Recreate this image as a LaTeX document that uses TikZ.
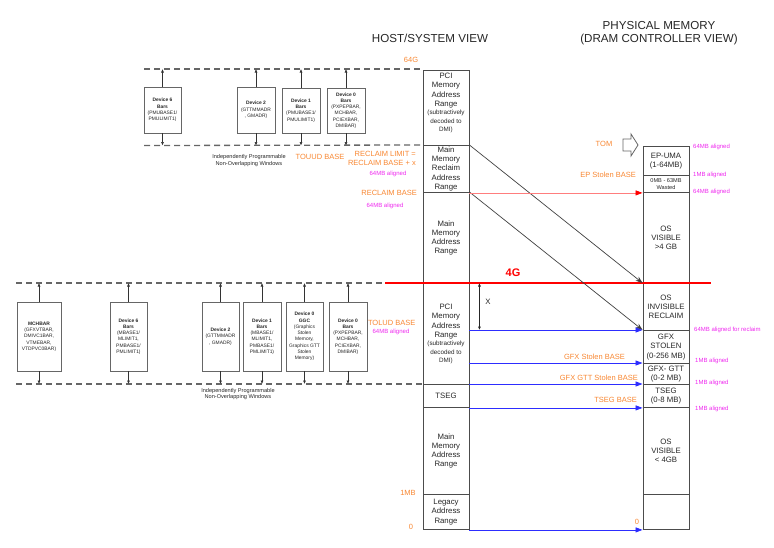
\documentclass[tikz,border=0pt]{standalone}
\usepackage{fontspec}
\setmainfont{Liberation Sans}
\usetikzlibrary{arrows.meta}

\definecolor{lblorange}{RGB}{248,135,50}
\definecolor{lblmag}{RGB}{238,40,238}
\definecolor{lineblue}{RGB}{45,45,255}
\definecolor{reclaimred}{RGB}{255,125,125}

\newcommand\fsMain{\fontsize{7.8}{9.3}\selectfont}
\newcommand\fsSub{\fontsize{6.3}{8.2}\selectfont}
\newcommand\fsTiny{\fontsize{5.6}{7.4}\selectfont}
\newcommand\fsDev{\fontsize{4.9}{6.3}\selectfont}
\newcommand\fsLbl{\fontsize{7.5}{8.8}\selectfont}
\newcommand\fsAlign{\fontsize{6.0}{7.2}\selectfont}
\newcommand\fsCap{\fontsize{5.6}{6.8}\selectfont}
\newcommand\fsHead{\fontsize{11.6}{13.2}\selectfont}

\tikzset{
  memcol/.style={draw=black!70, line width=0.9pt, minimum width=46pt, inner sep=0pt,
                 align=center, font=\fsMain, text=black!85, anchor=north},
  devbox/.style={draw=black!60, line width=0.7pt, fill=white, inner sep=0pt,
                 align=center, font=\fsDev, text=black!85},
  window/.style={black!60, line width=1.3pt, dash pattern=on 6pt off 4pt},
  devlink/.style={-{Latex[length=3.5pt,width=3pt]}, black!80, line width=0.6pt},
  remap/.style={-{Stealth[length=7pt,width=5pt]}, black!75, line width=0.7pt},
  basearrow/.style={-{Triangle[length=7pt,width=5pt]}, lineblue, line width=0.8pt},
  addr/.style={text=lblorange, font=\fsLbl, inner sep=0pt},
  note/.style={text=lblmag, font=\fsAlign, inner sep=0pt},
  caption/.style={text=black!85, font=\fsCap, align=center, inner sep=0pt},
  heading/.style={text=black!85, font=\fsHead, align=center, inner sep=0pt},
}

\begin{document}
\begin{tikzpicture}[x=1pt, y=-1pt]
\useasboundingbox (0,0) rectangle (774,547);

% ---------- headings ----------
\node[heading] (hhost) at (430,38) {HOST/SYSTEM VIEW};
\node[heading] (hphys) at (659,33) {PHYSICAL MEMORY\\(DRAM CONTROLLER VIEW)};

% ---------- host / system address map ----------
\node[memcol, minimum height=75pt] (hpci) at (446,70)
  {PCI\\Memory\\Address\\Range\\[-1pt]\fsSub(subtractively\\[-1pt]\fsSub decoded to\\[-1pt]\fsSub DMI)\\[2pt]\mbox{}};
\node[memcol, minimum height=47pt] (hrec) at (446,145)
  {Main\\Memory\\Reclaim\\Address\\Range};
\node[memcol, minimum height=91pt] (hmain) at (446,192)
  {Main\\Memory\\Address\\Range};
\node[memcol, minimum height=101pt] (hpci2) at (446,283)
  {PCI\\Memory\\Address\\Range\\[-1pt]\fsSub(subtractively\\[-1pt]\fsSub decoded to\\[-1pt]\fsSub DMI)};
\node[memcol, minimum height=23pt] (htseg) at (446,384) {TSEG};
\node[memcol, minimum height=87pt] (hmain2) at (446,407)
  {Main\\Memory\\Address\\Range};
\node[memcol, minimum height=35pt] (hleg) at (446,494)
  {Legacy\\Address\\Range};

% ---------- physical (DRAM) map ----------
\node[memcol, minimum height=29pt] (pep) at (666,146) {EP-UMA\\(1-64MB)};
\node[memcol, minimum height=17pt, font=\fsTiny] (pwaste) at (666,175) {0MB - 63MB\\[-0.6pt]Wasted};
\node[memcol, minimum height=91pt] (pvis) at (666,192) {OS\\VISIBLE\\>4 GB};
\node[memcol, minimum height=47pt] (pinvis) at (666,283) {OS\\INVISIBLE\\RECLAIM};
\node[memcol, minimum height=33pt] (pgfx) at (666,330) {GFX\\STOLEN\\(0-256 MB)};
\node[memcol, minimum height=21pt] (pgtt) at (666,363) {GFX- GTT\\(0-2 MB)};
\node[memcol, minimum height=23pt] (ptseg) at (666,384) {TSEG\\(0-8 MB)};
\node[memcol, minimum height=87pt] (pvis2) at (666,407) {OS\\VISIBLE\\< 4GB};
\node[memcol, minimum height=35pt] (plow) at (666,494) {};

% ---------- upper BAR windows (above 4G) ----------
\coordinate (uT) at (144,69);
\coordinate (uB) at (144,145.5);
\draw[window] (uT) -- (hpci.west |- uT);
\draw[window] (uB) -- (hrec.north west);

\node[devbox, minimum width=37pt, minimum height=46pt] (u6) at (162.5,110)
  {\textbf{Device 6}\\\textbf{Bars}\\(PMUBASE1/\\PMULIMIT1)};
\node[devbox, minimum width=38pt, minimum height=46pt] (u2) at (256,110)
  {\textbf{Device 2}\\(GTTMMADR\\, GMADR)};
\node[devbox, minimum width=38pt, minimum height=45pt] (u1) at (301,110.5)
  {\textbf{Device 1}\\\textbf{Bars}\\(PMUBASE1/\\PMULIMIT1)};
\node[devbox, minimum width=38pt, minimum height=45pt] (u0) at (346,110.5)
  {\textbf{Device 0}\\\textbf{Bars}\\(PXPEPBAR,\\MCHBAR,\\PCIEXBAR,\\DMIBAR)};
\foreach \n in {u6,u2,u1,u0}{
  \draw[devlink] (\n.north) -- (\n.north |- uT);
  \draw[devlink] (\n.south) -- (\n.south |- uB);
}
\node[caption] (ucap) at (249,160.5) {Independently Programmable\\Non-Overlapping Windows};

% ---------- lower BAR windows (below 4G) ----------
\coordinate (lT) at (16,283);
\coordinate (lTe) at (385,283);
\coordinate (lB) at (16,384);
\draw[window] (lT) -- (lTe);
\draw[window] (lB) -- (htseg.north west);

\node[devbox, minimum width=44pt, minimum height=69pt] (lm) at (39,336.5)
  {\textbf{MCHBAR}\\(GFXVTBAR,\\DMIVC1BAR,\\VTMEBAR,\\VTDPVC0BAR)};
\node[devbox, minimum width=37pt, minimum height=69pt] (l6) at (128.5,336.5)
  {\textbf{Device 6}\\\textbf{Bars}\\(MBASE1/\\MLIMIT1,\\PMBASE1/\\PMLIMIT1)};
\node[devbox, minimum width=37pt, minimum height=69pt] (l2) at (220.5,336.5)
  {\textbf{Device 2}\\(GTTMMADR\\, GMADR)};
\node[devbox, minimum width=38pt, minimum height=69pt] (l1) at (262,336.5)
  {\textbf{Device 1}\\\textbf{Bars}\\(MBASE1/\\MLIMIT1,\\PMBASE1/\\PMLIMIT1)};
\node[devbox, minimum width=37pt, minimum height=69pt] (lg) at (304.5,336.5)
  {\textbf{Device 0}\\\textbf{GGC}\\(Graphics\\Stolen\\Memory,\\Graphics GTT\\Stolen\\Memory)};
\node[devbox, minimum width=38pt, minimum height=69pt] (l0) at (348,336.5)
  {\textbf{Device 0}\\\textbf{Bars}\\(PXPEPBAR,\\MCHBAR,\\PCIEXBAR,\\DMIBAR)};
\foreach \n in {lm,l6,l2,l1,lg,l0}{
  \draw[devlink] (\n.north) -- (\n.north |- lT);
  \draw[devlink] (\n.south) -- (\n.south |- lB);
}
\node[caption] (lcap) at (238,394) {Independently Programmable\\Non-Overlapping Windows};

% ---------- 4G boundary ----------
\coordinate (g4r) at (711,283);
\draw[red, line width=1.2pt] (lTe) -- (g4r);
\node[text=red, font=\bfseries\fontsize{11}{12}\selectfont, inner sep=0pt] (l4g) at (513,273) {4G};

% ---------- remapping arrows ----------
\draw[remap] (hrec.north east) -- (pinvis.north west);
\draw[remap] (hmain.north east) -- (pgfx.north west);
\draw[reclaimred, line width=0.8pt, -{Triangle[length=7pt,width=5pt,fill=red,color=red]}]
  (hrec.south east) -- (pwaste.south west);

\draw[basearrow] (hpci2.east |- pgfx.north west) -- (pgfx.north west);
\draw[basearrow] (hpci2.east |- pgtt.north west) -- (pgtt.north west);
\draw[basearrow] (htseg.north east) -- (ptseg.north west);
\draw[basearrow] (htseg.south east) -- (ptseg.south west);
\draw[basearrow] (hleg.south east) -- (plow.south west);

% size of the reclaimed window
\coordinate (xt) at ([xshift=10pt]hpci2.north east);
\draw[black!85, line width=0.6pt, {Latex[length=3.5pt,width=3pt]}-{Latex[length=3.5pt,width=3pt]}]
  (xt) -- (xt |- pgfx.north);
\node[font=\fsMain, text=black!85, inner sep=0pt] (lx) at (488,302) {X};

% ---------- TOM marker ----------
\draw[black!60, line width=0.8pt, fill=white]
  (623,139) -- (631,139) -- (631,134) -- (638,145) -- (631,156) -- (631,151) -- (623,151) -- cycle;
\node[addr] (ltom) at (604,144) {TOM};

% ---------- address labels, host side ----------
\node[addr] (l64g) at (411,60) {64G};
\node[addr] (ltouud) at (320,157) {TOUUD BASE};
\node[addr, anchor=east, align=right] (lrlim) at (416,158.8) {RECLAIM LIMIT =\\RECLAIM BASE + x};
\node[note] (n1) at (388,173.5) {64MB aligned};
\node[addr, anchor=east] (lrbase) at (417,192.5) {RECLAIM BASE};
\node[note] (n2) at (385,205.5) {64MB aligned};
\node[addr] (ltolud) at (391.7,323) {TOLUD BASE};
\node[note] (n3) at (391,331.5) {64MB aligned};
\node[addr] (l1mb) at (408,493) {1MB};
\node[addr] (l0h) at (411,527) {0};

% ---------- address labels, DRAM side ----------
\node[addr, anchor=east] (lep) at (636,175) {EP Stolen BASE};
\node[addr] (lgfx) at (594.5,356.5) {GFX Stolen BASE};
\node[addr, anchor=east] (lgtt) at (638,378) {GFX GTT Stolen BASE};
\node[addr, anchor=east] (ltseg) at (637,399.5) {TSEG BASE};
\node[addr] (l0p) at (637,522) {0};

\node[note, anchor=west] (r1) at (693,147) {64MB aligned};
\node[note, anchor=west] (r2) at (693,174.5) {1MB aligned};
\node[note, anchor=west] (r3) at (693,192) {64MB aligned};
\node[note, anchor=west] (r4) at (694,329.5) {64MB aligned for reclaim};
\node[note, anchor=west] (r5) at (695,360.5) {1MB aligned};
\node[note, anchor=west] (r6) at (695,382.5) {1MB aligned};
\node[note, anchor=west] (r7) at (695,408.5) {1MB aligned};
\end{tikzpicture}
\end{document}
